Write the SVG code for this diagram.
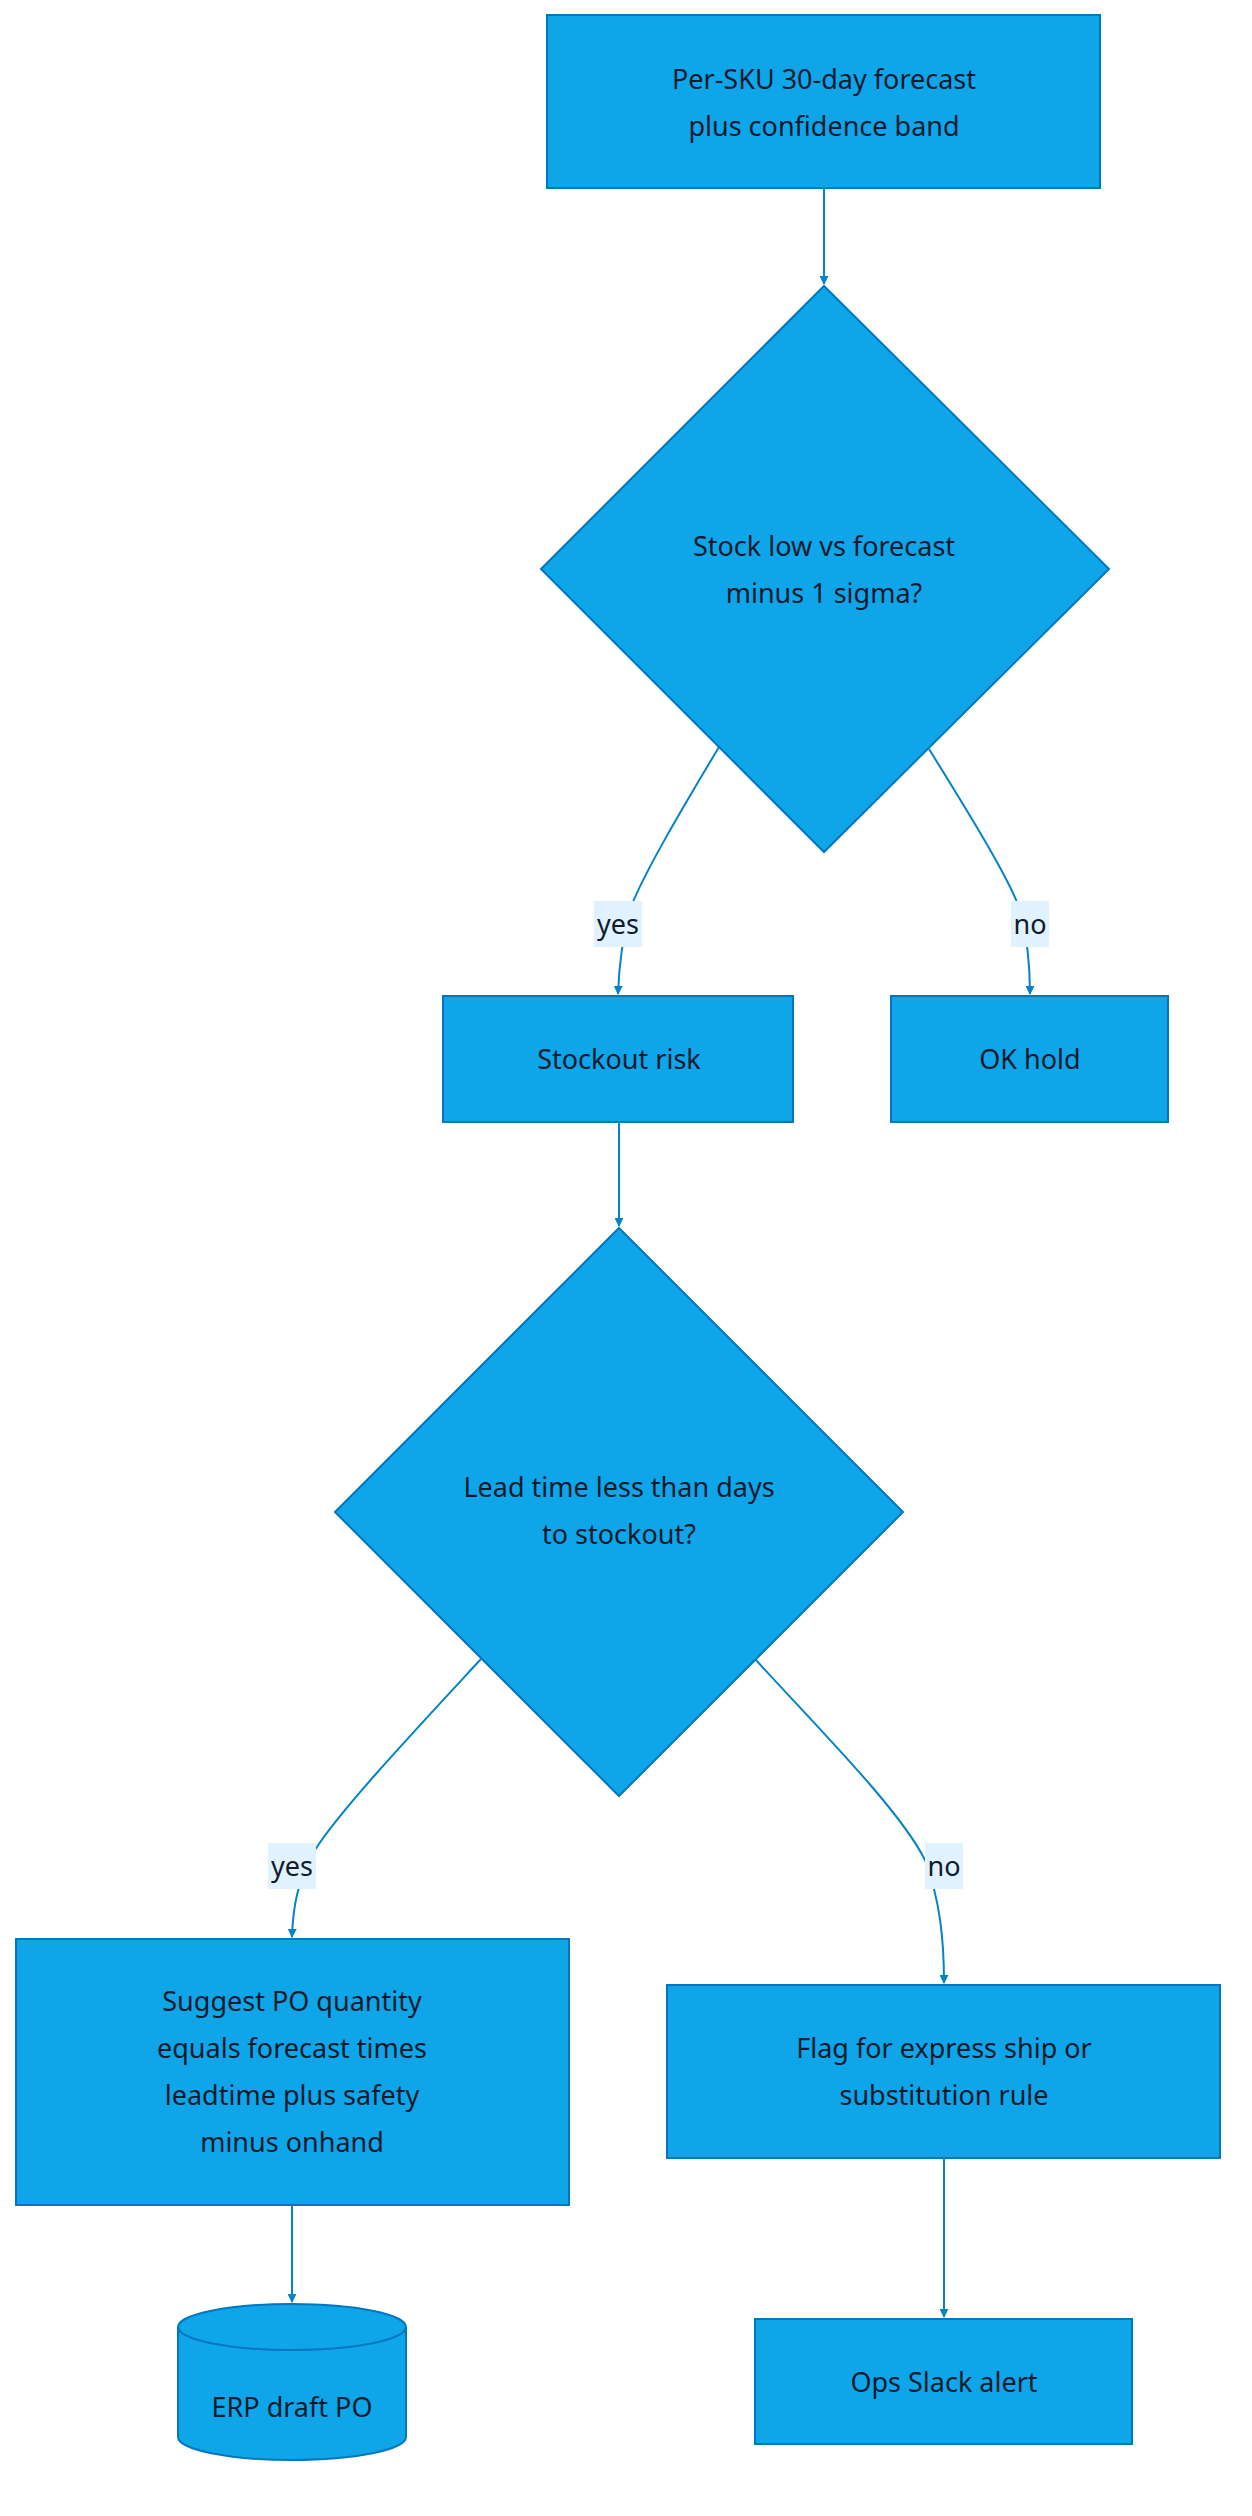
<svg xmlns="http://www.w3.org/2000/svg" width="1252" height="2516" viewBox="0 0 1252 2516">
<defs>
<style>
.n{fill:#0ea5e9;stroke:#0277bd;stroke-width:2}
.t{font-family:"Noto Sans","Open Sans",sans-serif;font-size:27px;fill:#0f1b2d;text-anchor:middle}
.e{fill:none;stroke:#0284c7;stroke-width:2}
.lb{fill:#e0f2fe}
</style>
<marker id="a" viewBox="0 0 10 10" refX="9" refY="5" markerWidth="9" markerHeight="9" markerUnits="userSpaceOnUse" orient="auto"><path d="M0,0L10,5L0,10z" fill="#0284c7"/></marker>
</defs>
<rect width="1252" height="2516" fill="#fff"/>
<g id="edges">
<path class="e" d="M824,188V284" marker-end="url(#a)"/>
<path class="e" d="M719,747C680,812 640,880 630,910C622,940 619,965 618,994" marker-end="url(#a)"/>
<path class="e" d="M929,749C970,815 1010,880 1020,910C1028,940 1030,965 1030,994" marker-end="url(#a)"/>
<path class="e" d="M619,1122V1226" marker-end="url(#a)"/>
<path class="e" d="M481,1659C420,1725 340,1810 315,1850C298,1880 293,1905 292,1937" marker-end="url(#a)"/>
<path class="e" d="M755,1659C820,1730 900,1810 925,1860C940,1900 944,1940 944,1983" marker-end="url(#a)"/>
<path class="e" d="M292,2205V2302" marker-end="url(#a)"/>
<path class="e" d="M944,2158V2317" marker-end="url(#a)"/>
<rect class="lb" x="594" y="901" width="48" height="46"/><text class="t" x="618" y="934">yes</text>
<rect class="lb" x="1011" y="901" width="38" height="46"/><text class="t" x="1030" y="934">no</text>
<rect class="lb" x="268" y="1843" width="48" height="46"/><text class="t" x="292" y="1876">yes</text>
<rect class="lb" x="925" y="1843" width="38" height="46"/><text class="t" x="944" y="1876">no</text>
</g>
<g id="forecast"><rect class="n" x="547" y="15" width="553" height="173"/><text class="t" x="824" y="89">Per-SKU 30-day forecast</text><text class="t" x="824" y="136">plus confidence band</text></g>
<g id="stocklow"><path class="n" d="M824,286L1109,569L824,852L541,569z"/><text class="t" x="824" y="556">Stock low vs forecast</text><text class="t" x="824" y="603">minus 1 sigma?</text></g>
<g id="stockout"><rect class="n" x="443" y="996" width="350" height="126"/><text class="t" x="619" y="1069">Stockout risk</text></g>
<g id="okhold"><rect class="n" x="891" y="996" width="277" height="126"/><text class="t" x="1030" y="1069">OK hold</text></g>
<g id="leadtime"><path class="n" d="M619,1228L903,1512L619,1796L335,1512z"/><text class="t" x="619" y="1497">Lead time less than days</text><text class="t" x="619" y="1544">to stockout?</text></g>
<g id="suggest"><rect class="n" x="16" y="1939" width="553" height="266"/><text class="t" x="292" y="2011">Suggest PO quantity</text><text class="t" x="292" y="2058">equals forecast times</text><text class="t" x="292" y="2105">leadtime plus safety</text><text class="t" x="292" y="2152">minus onhand</text></g>
<g id="flag"><rect class="n" x="667" y="1985" width="553" height="173"/><text class="t" x="944" y="2058">Flag for express ship or</text><text class="t" x="944" y="2105">substitution rule</text></g>
<g id="erp"><path class="n" d="M178,2327A114,23 0 0 1 406,2327V2437A114,23 0 0 1 178,2437z"/><path class="n" d="M178,2327A114,23 0 0 0 406,2327"/><text class="t" x="292" y="2417">ERP draft PO</text></g>
<g id="ops"><rect class="n" x="755" y="2319" width="377" height="125"/><text class="t" x="944" y="2392">Ops Slack alert</text></g>
</svg>
